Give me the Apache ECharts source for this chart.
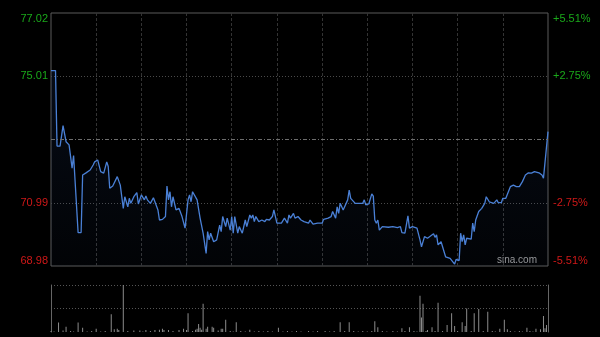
<!DOCTYPE html>
<html>
<head>
<meta charset="utf-8">
<script src="https://cdn.jsdelivr.net/npm/echarts@6/dist/echarts.min.js"></script>
<style>html,body{margin:0;padding:0;background:#000;}#c{width:600px;height:337px;}</style>
</head>
<body>
<div id="c"></div>
<script>
// ---- data ----
const prevClose = 73.00;
const minutes = [
  0,3,4,6,8,10,12,14,15,16,
  18,20,21,23,26,28,29,30,31,33,
  35,37,38,39,41,42,44,46,47,48,
  49,51,52,53,55,57,58,60,62,63,
  64,66,68,69,71,72,74,76,77,78,
  79,80,81,83,85,87,89,91,92,93,
  94,97,99,101,103,104,105,106,108,110,
  112,113,114,116,117,119,120,121,122,124,
  125,127,129,130,132,133,134,135,136,138,
  140,142,143,145,147,148,150,153,155,156,
  157,158,159,161,162,164,166,168,171,172,
  174,177,180,181,184,186,187,189,190,191,
  192,194,195,197,198,199,200,202,207,208,
  209,211,213,214,215,216,217,218,220,224,
  227,230,232,233,235,236,237,238,240,243,
  245,246,248,250,252,254,255,256,257,259,
  260,262,265,266,268,269,271,272,273,274,
  275,276,279,280,281,282,284,286,287,288,
  289,291,292,294,296,297,299,300,302,305,
  307,309,311,313,315,317,319,321,322,324,
  326,327,330
];
const prices = [
  75.19,75.19,72.79,72.79,73.44,72.93,72.83,72.09,72.49,72.45,
  70.04,70.04,71.87,71.93,72.03,72.19,72.29,72.24,72.35,71.98,
  71.93,72.29,72.14,71.45,71.52,71.55,71.82,71.55,71.50,70.81,
  71.18,70.86,71.13,70.97,71.18,71.31,70.95,71.24,71.08,71.20,
  71.08,70.97,71.15,71.02,70.76,70.44,70.46,70.55,71.52,71.08,
  71.34,70.86,71.18,70.76,70.81,70.55,70.18,71.08,71.24,71.02,
  71.34,71.08,70.50,70.02,69.38,70.07,69.81,70.02,69.75,69.81,
  70.28,70.07,70.55,70.23,70.50,70.12,70.55,70.02,70.55,70.02,
  70.23,70.02,70.44,70.23,70.60,70.50,70.60,70.39,70.55,70.39,
  70.44,70.39,70.46,70.44,70.55,70.76,70.34,70.34,70.50,70.55,
  70.34,70.60,70.50,70.65,70.50,70.55,70.44,70.39,70.34,70.44,
  70.31,70.34,70.34,70.46,70.50,70.55,70.71,70.50,70.86,70.65,
  70.97,70.76,70.81,71.08,71.39,71.13,71.16,70.97,70.97,71.08,
  70.92,70.95,71.27,71.20,70.44,70.34,70.44,70.12,70.23,70.21,
  70.23,70.20,70.23,70.04,70.02,69.97,70.57,70.18,70.23,70.18,
  69.81,69.59,69.91,69.86,69.93,70.00,69.89,69.97,69.65,69.75,
  69.59,69.27,69.22,69.17,69.04,69.19,69.15,70.02,69.75,69.97,
  69.65,69.86,69.83,70.34,70.07,70.44,70.71,70.81,70.86,70.97,
  71.18,71.02,71.08,70.97,71.08,70.99,70.99,71.13,71.13,71.50,
  71.55,71.50,71.50,71.66,71.87,71.94,71.93,71.98,71.93,71.94,
  71.87,71.77,73.25
];
const volMinutes = [
  0,2,5,8,10,13,15,18,21,24,27,30,33,36,40,42,44,45,48,51,
  55,59,61,63,66,69,72,74,75,78,81,85,88,90,91,94,96,97,98,99,
  100,101,103,104,107,108,111,113,114,116,119,121,123,126,129,132,135,138,141,144,
  147,151,154,157,160,163,166,171,174,177,182,185,188,192,195,198,201,204,207,210,
  213,215,217,220,223,227,230,233,235,238,241,243,245,246,247,249,250,253,255,257,
  260,263,266,268,270,273,275,276,279,281,284,287,290,293,295,298,301,303,305,308,
  311,313,316,318,320,322,325,327,328,329
];
const volumes = [
  2,1,20,3,11,2,1,20,9,1,2,7,1,2,38,6,7,4,100,2,
  3,3,1,4,2,4,5,7,4,4,2,4,7,4,40,2,5,7,17,9,
  5,60,7,11,11,9,3,7,7,26,2,1,21,2,1,5,1,2,1,2,
  1,9,1,2,1,2,1,2,1,2,2,1,2,21,2,21,2,1,2,1,
  2,23,10,2,1,2,1,8,2,10,2,1,77,31,60,2,4,10,2,62,
  2,15,40,13,2,21,13,50,2,40,49,2,43,2,1,7,26,6,2,1,
  2,1,9,2,1,7,6,34,8,15
];
const priceTickLabels = ['68.98', '70.99', '', '75.01', '77.02'];   // bottom -> top
const pctTickLabels   = ['-5.51%', '-2.75%', '', '+2.75%', '+5.51%'];
const pctMax = 5.51;

// ---- chart ----
const UP = '#1aa81a', DOWN = '#d01818';
const pctData = prices.map((p, i) => [minutes[i], (p / prevClose - 1) * 100]);
const volData = volumes.map((v, i) => [volMinutes[i], v]);
const tickIdx = v => Math.round((v + pctMax) / (pctMax / 2));
const tickColor = v => v > 0.0001 ? UP : (v < -0.0001 ? DOWN : '#888');
const FONT = 'Liberation Sans, Arial, sans-serif';

const chart = echarts.init(document.getElementById('c'), null, {renderer: 'canvas'});
chart.setOption({
  backgroundColor: '#000',
  animation: false,
  grid: [
    {left: 51, right: 52, top: 13, height: 253, show: true, borderColor: '#5a5a5a', borderWidth: 1, backgroundColor: 'transparent'},
    {left: 51, right: 52, top: 285, height: 47}
  ],
  xAxis: [
    {type: 'value', gridIndex: 0, min: 0, max: 330, interval: 30,
     axisLine: {show: false}, axisTick: {show: false}, axisLabel: {show: false},
     splitLine: {show: true, showMinLine: false, showMaxLine: false, lineStyle: {color: '#333', type: [3, 2], width: 1}}},
    {type: 'value', gridIndex: 1, min: 0, max: 330, interval: 30,
     axisLine: {show: false}, axisTick: {show: false}, axisLabel: {show: false}, splitLine: {show: false}}
  ],
  yAxis: [
    {type: 'value', gridIndex: 0, position: 'left', min: -pctMax, max: pctMax, interval: pctMax / 2,
     axisLine: {show: false}, axisTick: {show: false},
     axisLabel: {show: true, margin: 3, fontSize: 11, fontFamily: FONT,
       verticalAlignMinLabel: 'bottom', verticalAlignMaxLabel: 'top',
       formatter: v => priceTickLabels[tickIdx(v)] || '', color: v => tickColor(v)},
     splitLine: {show: true, showMinLine: false, showMaxLine: false, lineStyle: {color: '#4a4a4a', type: [1, 2], width: 1}}},
    {type: 'value', gridIndex: 0, position: 'right', min: -pctMax, max: pctMax, interval: pctMax / 2,
     axisLine: {show: false}, axisTick: {show: false},
     axisLabel: {show: true, margin: 5, fontSize: 11, fontFamily: FONT,
       verticalAlignMinLabel: 'bottom', verticalAlignMaxLabel: 'top',
       formatter: v => pctTickLabels[tickIdx(v)] || '', color: v => tickColor(v)},
     splitLine: {show: false}},
    {type: 'value', gridIndex: 1, position: 'left', min: 0, max: 100, interval: 50,
     axisLine: {show: true, lineStyle: {color: '#666', width: 1}}, axisTick: {show: false}, axisLabel: {show: false},
     splitLine: {show: true, showMinLine: false, lineStyle: {color: '#555', type: [1, 2], width: 1}}},
    {type: 'value', gridIndex: 1, position: 'right', min: 0, max: 100, interval: 50,
     axisLine: {show: true, lineStyle: {color: '#666', width: 1}}, axisTick: {show: false}, axisLabel: {show: false},
     splitLine: {show: false}}
  ],
  series: [
    {type: 'line', xAxisIndex: 0, yAxisIndex: 0, data: pctData, symbol: 'none', smooth: false,
     lineStyle: {color: '#4a80d6', width: 1.3},
     areaStyle: {origin: 'start', color: new echarts.graphic.LinearGradient(0, 0, 0, 1, [
       {offset: 0, color: 'rgba(50,90,170,0.18)'}, {offset: 1, color: 'rgba(50,90,170,0.05)'}])},
     markLine: {silent: true, symbol: 'none', label: {show: false},
       lineStyle: {color: '#6e6e6e', type: [4, 2, 1, 2], width: 1},
       data: [{yAxis: 0}]}},
    {type: 'bar', xAxisIndex: 1, yAxisIndex: 2, data: volData, barWidth: 1,
     itemStyle: {color: '#8c8c8c'}}
  ],
  graphic: [
    {type: 'text', right: 63, top: 255, silent: true,
     style: {text: 'sina.com', fill: '#9a9a9a', font: '10px "Liberation Sans", Arial, sans-serif'}}
  ]
});
</script>
</body>
</html>
